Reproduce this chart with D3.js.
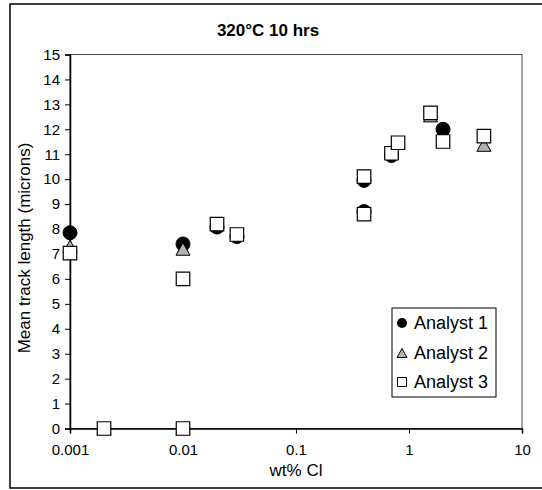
<!DOCTYPE html>
<html><head><meta charset="utf-8">
<script src="https://cdn.jsdelivr.net/npm/d3@7"></script>
<style>body{margin:0;background:#fff}svg{display:block;font-family:"Liberation Sans",Arial,sans-serif}</style>
</head><body>
<svg id="c" width="542" height="490"></svg>
<script>
const title = "320°C 10 hrs";
const xLabel = "wt% Cl";
const yLabel = "Mean track length (microns)";
const xTicks = [0.001, 0.01, 0.1, 1, 10];
const xTickLabels = ["0.001", "0.01", "0.1", "1", "10"];
const yTicks = d3.range(0, 16);
const seriesNames = ["Analyst 1", "Analyst 2", "Analyst 3"];
const analyst1X = [0.001, 0.01, 0.02, 0.03, 0.4, 0.4, 0.7, 2];
const analyst1Y = [7.85, 7.4, 8.08, 7.7, 9.95, 8.7, 10.95, 12.0];
const analyst2X = [0.001, 0.002, 0.01, 0.01, 1.55, 4.6];
const analyst2Y = [7.3, 0, 7.2, 0, 12.55, 11.37];
const analyst3X = [0.001, 0.002, 0.01, 0.01, 0.02, 0.03, 0.4, 0.4, 0.7, 0.8, 1.55, 2, 4.6];
const analyst3Y = [7.03, 0, 6.0, 0, 8.2, 7.78, 10.1, 8.6, 11.04, 11.46, 12.66, 11.51, 11.73];

const svg = d3.select("#c");
const L = 70, R = 522, T = 54.5, B = 428.5;
const x = d3.scaleLog().domain([0.001, 10]).range([L, R]);
const y = d3.scaleLinear().domain([0, 15]).range([B, T]);

// outer frame
svg.append("rect").attr("x", 10).attr("y", 4).attr("width", 540).attr("height", 484)
  .attr("fill", "none").attr("stroke", "#000").attr("stroke-width", 1.5);

// plot border
svg.append("rect").attr("x", L).attr("y", T).attr("width", R - L).attr("height", B - T)
  .attr("fill", "none").attr("stroke", "#444").attr("stroke-width", 1);

// title
svg.append("text").attr("x", 268).attr("y", 36).attr("text-anchor", "middle")
  .attr("font-size", 17).attr("font-weight", "bold").text(title);

// axes
const xAxis = d3.axisBottom(x).tickValues(xTicks).tickSize(5).tickPadding(11)
  .tickFormat((d, i) => xTickLabels[i]);
const gx = svg.append("g").attr("transform", `translate(0,${B})`).call(xAxis);
gx.select(".domain").attr("stroke", "#000").attr("stroke-width", 1.5);
gx.selectAll("text").attr("font-size", 15).attr("fill", "#000").attr("font-family", "Liberation Sans, Arial, sans-serif");

const yAxis = d3.axisLeft(y).tickValues(yTicks).tickSize(5).tickPadding(5).tickFormat(d3.format("d"));
const gy = svg.append("g").attr("transform", `translate(${L},0)`).call(yAxis);
gy.select(".domain").attr("stroke", "#000").attr("stroke-width", 1.5);
gy.selectAll("text").attr("font-size", 15).attr("fill", "#000").attr("font-family", "Liberation Sans, Arial, sans-serif");

svg.append("text").attr("x", (L + R) / 2).attr("y", 476).attr("text-anchor", "middle")
  .attr("font-size", 17).text(xLabel);
svg.append("text").attr("transform", `translate(30,248) rotate(-90)`)
  .attr("text-anchor", "middle").attr("font-size", 17).text(yLabel);

// markers
const circleSym = d3.symbol().type(d3.symbolCircle).size(Math.PI * 7 * 7);
function triPath(s) { const h = s * 0.9; return `M0,${-h/2}L${s/2},${h/2}L${-s/2},${h/2}Z`; }
function sqPath(s) { return `M${-s/2},${-s/2}h${s}v${s}h${-s}Z`; }

const d1 = analyst1X.map((v, i) => [v, analyst1Y[i]]);
const d2 = analyst2X.map((v, i) => [v, analyst2Y[i]]);
const d3s = analyst3X.map((v, i) => [v, analyst3Y[i]]);

svg.append("g").selectAll("path").data(d1).join("path")
  .attr("d", circleSym).attr("transform", d => `translate(${x(d[0])},${y(d[1])})`)
  .attr("fill", "#000").attr("stroke", "#000");
svg.append("g").selectAll("path").data(d2).join("path")
  .attr("d", triPath(14)).attr("transform", d => `translate(${x(d[0])},${y(d[1])})`)
  .attr("fill", "#b2b2b2").attr("stroke", "#000").attr("stroke-width", 1);
svg.append("g").selectAll("path").data(d3s).join("path")
  .attr("d", sqPath(13.5)).attr("transform", d => `translate(${x(d[0])},${y(d[1])})`)
  .attr("fill", "#fff").attr("stroke", "#000").attr("stroke-width", 1.2);

// legend
const lg = svg.append("g");
lg.append("rect").attr("x", 392).attr("y", 308).attr("width", 104).attr("height", 89)
  .attr("fill", "#fff").attr("stroke", "#000").attr("stroke-width", 1);
const rows = [323, 353, 382];
const mx = 402;
lg.append("circle").attr("cx", mx).attr("cy", rows[0]).attr("r", 5).attr("fill", "#000");
lg.append("path").attr("d", triPath(10)).attr("transform", `translate(${mx},${rows[1]})`)
  .attr("fill", "#b2b2b2").attr("stroke", "#000");
lg.append("path").attr("d", sqPath(9)).attr("transform", `translate(${mx},${rows[2]})`)
  .attr("fill", "#fff").attr("stroke", "#000");
seriesNames.forEach((n, i) => {
  lg.append("text").attr("x", 414).attr("y", rows[i]).attr("dy", "0.36em")
    .attr("font-size", 18).text(n);
});
</script>
</body></html>
